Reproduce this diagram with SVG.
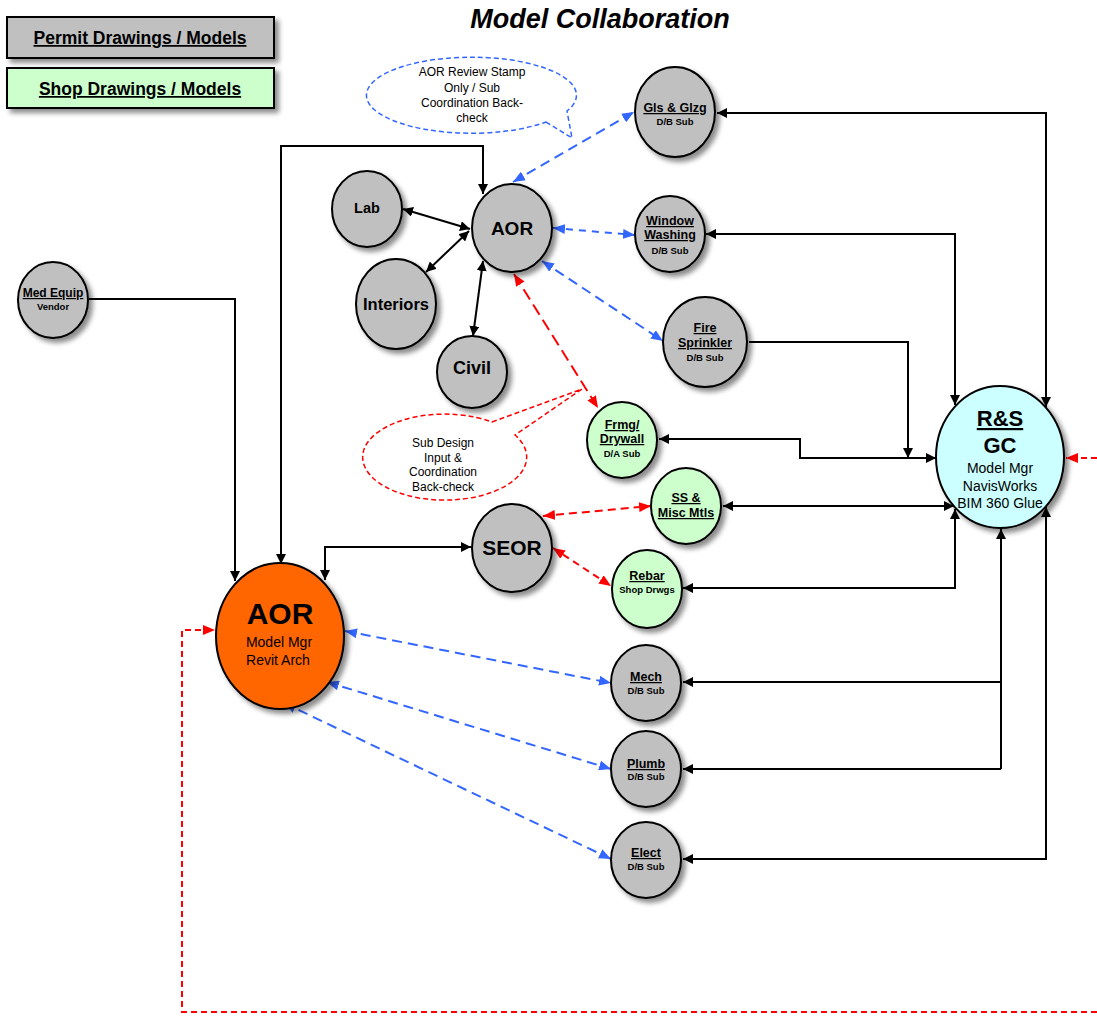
<svg xmlns="http://www.w3.org/2000/svg" width="1097" height="1019" viewBox="0 0 1097 1019">
<style>
text{font-family:"Liberation Sans",Arial,sans-serif;text-anchor:middle;fill:#000}
.b{font-weight:bold}
.u{text-decoration:underline}
.t{font-size:12.5px;font-weight:bold;text-decoration:underline}
.s{font-size:9.5px;font-weight:bold}
.n{stroke:#000;stroke-width:2}
.gray{fill:#c0c0c0}
.green{fill:#ccffcc}
.k{fill:none;stroke:#000;stroke-width:2;marker-end:url(#ak);marker-start:url(#ak)}
.k1{fill:none;stroke:#000;stroke-width:2;marker-end:url(#ak)}
.k0{fill:none;stroke:#000;stroke-width:2}
.bl{fill:none;stroke:#3366ff;stroke-width:2;stroke-dasharray:10 6;marker-end:url(#ab);marker-start:url(#ab)}
.rd{fill:none;stroke:#ff0000;stroke-width:2;stroke-dasharray:12 6;marker-end:url(#ar);marker-start:url(#ar)}
.rd1{fill:none;stroke:#ff0000;stroke-width:2;stroke-dasharray:6 4;marker-end:url(#ar)}
.co{font-size:12px}
</style>
<defs>
<filter id="sh" x="-20%" y="-20%" width="150%" height="150%">
<feDropShadow dx="4" dy="4" stdDeviation="2.5" flood-color="#000" flood-opacity="0.45"/>
</filter>
<marker id="ak" viewBox="0 0 10 10" refX="10" refY="5" markerWidth="10" markerHeight="10" markerUnits="userSpaceOnUse" orient="auto-start-reverse"><path d="M0,0 L10,5 L0,10 Z" fill="#000"/></marker>
<marker id="ab" viewBox="0 0 12 10" refX="12" refY="5" markerWidth="12" markerHeight="10" markerUnits="userSpaceOnUse" orient="auto-start-reverse"><path d="M0,0 L12,5 L0,10 Z" fill="#3366ff"/></marker>
<marker id="ar" viewBox="0 0 12 10" refX="12" refY="5" markerWidth="12" markerHeight="10" markerUnits="userSpaceOnUse" orient="auto-start-reverse"><path d="M0,0 L12,5 L0,10 Z" fill="#ff0000"/></marker>
</defs>
<rect width="1097" height="1019" fill="#fff"/>

<text x="600" y="28" font-size="27" font-weight="bold" font-style="italic">Model Collaboration</text>

<g id="legend-permit">
<rect x="7" y="17" width="267" height="41" class="n gray" filter="url(#sh)"/>
<text x="140" y="44" font-size="17.5" class="b u">Permit Drawings / Models</text>
</g>
<g id="legend-shop">
<rect x="7" y="68" width="267" height="40" class="n green" filter="url(#sh)"/>
<text x="140" y="95" font-size="17.5" class="b u">Shop Drawings / Models</text>
</g>

<g id="connectors">
<!-- black -->
<path class="k" d="M717,113 L1046,113 L1046,407"/>
<path class="k" d="M706,234 L955,234 L955,405"/>
<path class="k1" d="M749,342 L908,342 L908,458"/>
<path class="k" d="M659,439 L800,439 L800,458 L936,458"/>
<path class="k" d="M723,506 L954,506"/>
<path class="k" d="M683,588 L955,588 L955,509"/>
<path class="k" d="M683,682 L1001,682 L1001,529"/>
<path class="k0" d="M1001,682 L1001,769"/>
<path class="k1" d="M1001,769 L683,769"/>
<path class="k" d="M683,859 L1046,859 L1046,507"/>
<path class="k1" d="M89,299 L235,299 L235,581"/>
<path class="k" d="M281,564 L281,146 L483,146 L483,194"/>
<path class="k" d="M325,580 L325,547 L471,547"/>
<path class="k" d="M403,209 L470,229"/>
<path class="k" d="M426,272 L469,231"/>
<path class="k" d="M473,336 L483,261"/>
<!-- blue -->
<path class="bl" d="M513,182 L634,112"/>
<path class="bl" style="stroke-dasharray:7 6" d="M553,228 L635,235"/>
<path class="bl" d="M542,261 L663,341"/>
<path class="bl" d="M345,631 L611,683"/>
<path class="bl" d="M327,682 L611,769"/>
<path class="bl" d="M284,703 L611,859"/>
<!-- red -->
<path class="rd" d="M514,274 L598,408"/>
<path class="rd" style="stroke-dasharray:8 5" d="M543,516 L651,506"/>
<path class="rd" style="stroke-dasharray:7 5" d="M553,548 L611,586"/>
<path class="rd1" d="M1097,458 L1066,458"/>
<path class="rd1" d="M1097,1012 L182,1012 L182,630 L215,630"/>
</g>

<g id="callout-aor">
<path d="M546,122 L572,138 L567,111 A105,38 0 1,0 546,122 Z" fill="#fff" stroke="#3366ff" stroke-width="1.5" stroke-dasharray="5 3"/>
<text class="co" x="472" y="76">AOR Review Stamp</text>
<text class="co" x="472" y="91.5">Only / Sub</text>
<text class="co" x="472" y="107">Coordination Back-</text>
<text class="co" x="472" y="122">check</text>
</g>
<g id="callout-sub">
<path d="M492,422 L582,389 L515,435 A82,43 0 1,1 492,422 Z" fill="#fff" stroke="#ff0000" stroke-width="1.5" stroke-dasharray="5 3"/>
<text class="co" x="443" y="447">Sub Design</text>
<text class="co" x="443" y="462">Input &amp;</text>
<text class="co" x="443" y="476">Coordination</text>
<text class="co" x="443" y="491">Back-check</text>
</g>

<g id="node-gls">
<ellipse cx="675" cy="112" rx="40" ry="45" class="n gray" filter="url(#sh)"/>
<text x="675" y="112" class="t">Gls &amp; Glzg</text>
<text x="675" y="125" class="s">D/B Sub</text>
</g>
<g id="node-window">
<ellipse cx="670" cy="234" rx="35" ry="38" class="n gray" filter="url(#sh)"/>
<text x="670" y="225" class="t">Window</text>
<text x="670" y="239" class="t">Washing</text>
<text x="670" y="254" class="s">D/B Sub</text>
</g>
<g id="node-fire">
<ellipse cx="705" cy="342" rx="42" ry="45" class="n gray" filter="url(#sh)"/>
<text x="705" y="332" class="t">Fire</text>
<text x="705" y="347" class="t">Sprinkler</text>
<text x="705" y="361" class="s">D/B Sub</text>
</g>
<g id="node-aor-top">
<ellipse cx="512" cy="228" rx="40" ry="44" class="n gray" filter="url(#sh)"/>
<text x="512" y="235" font-size="19" class="b">AOR</text>
</g>
<g id="node-lab">
<ellipse cx="367" cy="209" rx="35" ry="38" class="n gray" filter="url(#sh)"/>
<text x="367" y="213" font-size="14.5" class="b">Lab</text>
</g>
<g id="node-interiors">
<ellipse cx="396" cy="304" rx="40" ry="45" class="n gray" filter="url(#sh)"/>
<text x="396" y="310" font-size="16.5" class="b">Interiors</text>
</g>
<g id="node-civil">
<ellipse cx="472" cy="372" rx="35" ry="36" class="n gray" filter="url(#sh)"/>
<text x="472" y="374" font-size="18" class="b">Civil</text>
</g>
<g id="node-frmg">
<ellipse cx="622" cy="440" rx="35" ry="38" class="n green" filter="url(#sh)"/>
<text x="622" y="429" class="t">Frmg/</text>
<text x="622" y="443" class="t">Drywall</text>
<text x="622" y="457" class="s">D/A Sub</text>
</g>
<g id="node-ss">
<ellipse cx="686" cy="506" rx="35" ry="38" class="n green" filter="url(#sh)"/>
<text x="686" y="502" class="t">SS &amp;</text>
<text x="686" y="517" class="t">Misc Mtls</text>
</g>
<g id="node-seor">
<ellipse cx="512" cy="548" rx="40" ry="44" class="n gray" filter="url(#sh)"/>
<text x="512" y="555" font-size="21" class="b">SEOR</text>
</g>
<g id="node-rebar">
<ellipse cx="647" cy="589" rx="35" ry="39" class="n green" filter="url(#sh)"/>
<text x="647" y="580" class="t">Rebar</text>
<text x="647" y="593" class="s">Shop Drwgs</text>
</g>
<g id="node-aor-main">
<ellipse cx="280" cy="636" rx="64" ry="73" class="n" fill="#ff6600" filter="url(#sh)"/>
<text x="280" y="624" font-size="30" class="b">AOR</text>
<text x="279" y="647" font-size="14">Model Mgr</text>
<text x="278" y="665" font-size="14">Revit Arch</text>
</g>
<g id="node-mech">
<ellipse cx="646" cy="683" rx="35" ry="38" class="n gray" filter="url(#sh)"/>
<text x="646" y="681" class="t">Mech</text>
<text x="646" y="694" class="s">D/B Sub</text>
</g>
<g id="node-plumb">
<ellipse cx="646" cy="769" rx="35" ry="38" class="n gray" filter="url(#sh)"/>
<text x="646" y="768" class="t">Plumb</text>
<text x="646" y="780" class="s">D/B Sub</text>
</g>
<g id="node-elect">
<ellipse cx="646" cy="860" rx="35" ry="38" class="n gray" filter="url(#sh)"/>
<text x="646" y="857" class="t">Elect</text>
<text x="646" y="870" class="s">D/B Sub</text>
</g>
<g id="node-med">
<ellipse cx="53" cy="300" rx="35" ry="38" class="n gray" filter="url(#sh)"/>
<text x="53" y="297" font-size="12" class="b u">Med Equip</text>
<text x="53" y="310" class="s">Vendor</text>
</g>
<g id="node-gc">
<ellipse cx="1000" cy="457" rx="64" ry="71" class="n" fill="#ccffff" filter="url(#sh)"/>
<text x="1000" y="426" font-size="22" class="b u">R&amp;S</text>
<text x="1000" y="453" font-size="22" class="b">GC</text>
<text x="1000" y="473" font-size="14">Model Mgr</text>
<text x="1000" y="491" font-size="14">NavisWorks</text>
<text x="1000" y="508" font-size="14">BIM 360 Glue</text>
</g>
</svg>
